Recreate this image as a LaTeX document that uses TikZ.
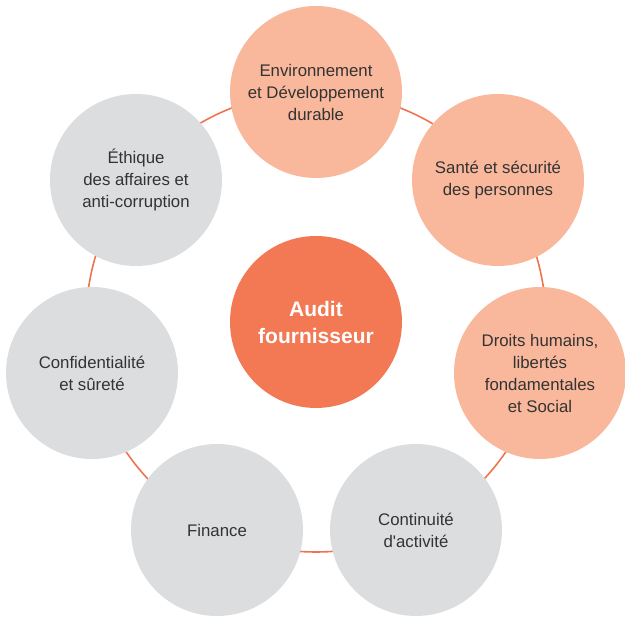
\documentclass[tikz,border=0pt]{standalone}
\usepackage{fontspec}
\setmainfont{Liberation Sans}
\usetikzlibrary{backgrounds}
\definecolor{colorcore}{RGB}{243,120,84}
\definecolor{colorwarm}{RGB}{249,184,156}
\definecolor{colorcool}{RGB}{220,221,223}
\definecolor{colorring}{RGB}{240,115,80}
\definecolor{colortext}{RGB}{51,51,51}

\begin{document}
\begin{tikzpicture}[x={(1pt,0pt)},y={(0pt,-1pt)},
  every node/.style={circle, minimum size=172pt, inner sep=0pt, outer sep=0pt, align=center},
  topic/.style={text=colortext, font=\fontsize{16.8}{22}\selectfont},
  ring/.style={draw=colorring, line width=1.6pt}]

\useasboundingbox (0,0) rectangle (625,617);

\node[fill=colorcore, text=white, font=\fontsize{21}{27}\selectfont\bfseries] (audit) at (316,322) {Audit\\fournisseur};

\node[topic, fill=colorwarm] (env)    at (316,92)  {Environnement\\et Développement\\durable};
\node[topic, fill=colorwarm] (sante)  at (498,180) {Santé et sécurité\\des personnes};
\node[topic, fill=colorwarm] (droits) at (540,373) {Droits humains,\\libertés\\fondamentales\\et Social};
\node[topic, fill=colorcool] (cont)   at (416,530) {Continuité\\d\textquotesingle activité};
\node[topic, fill=colorcool] (fin)    at (217,530) {Finance};
\node[topic, fill=colorcool] (conf)   at (92,373)  {Confidentialité\\et sûreté};
\node[topic, fill=colorcool] (ethi)   at (136,180) {Éthique\\des affaires et\\anti-corruption};

\begin{scope}[on background layer]
\draw[ring] (audit.center) circle[radius=230pt];
\end{scope}

\end{tikzpicture}
\end{document}
